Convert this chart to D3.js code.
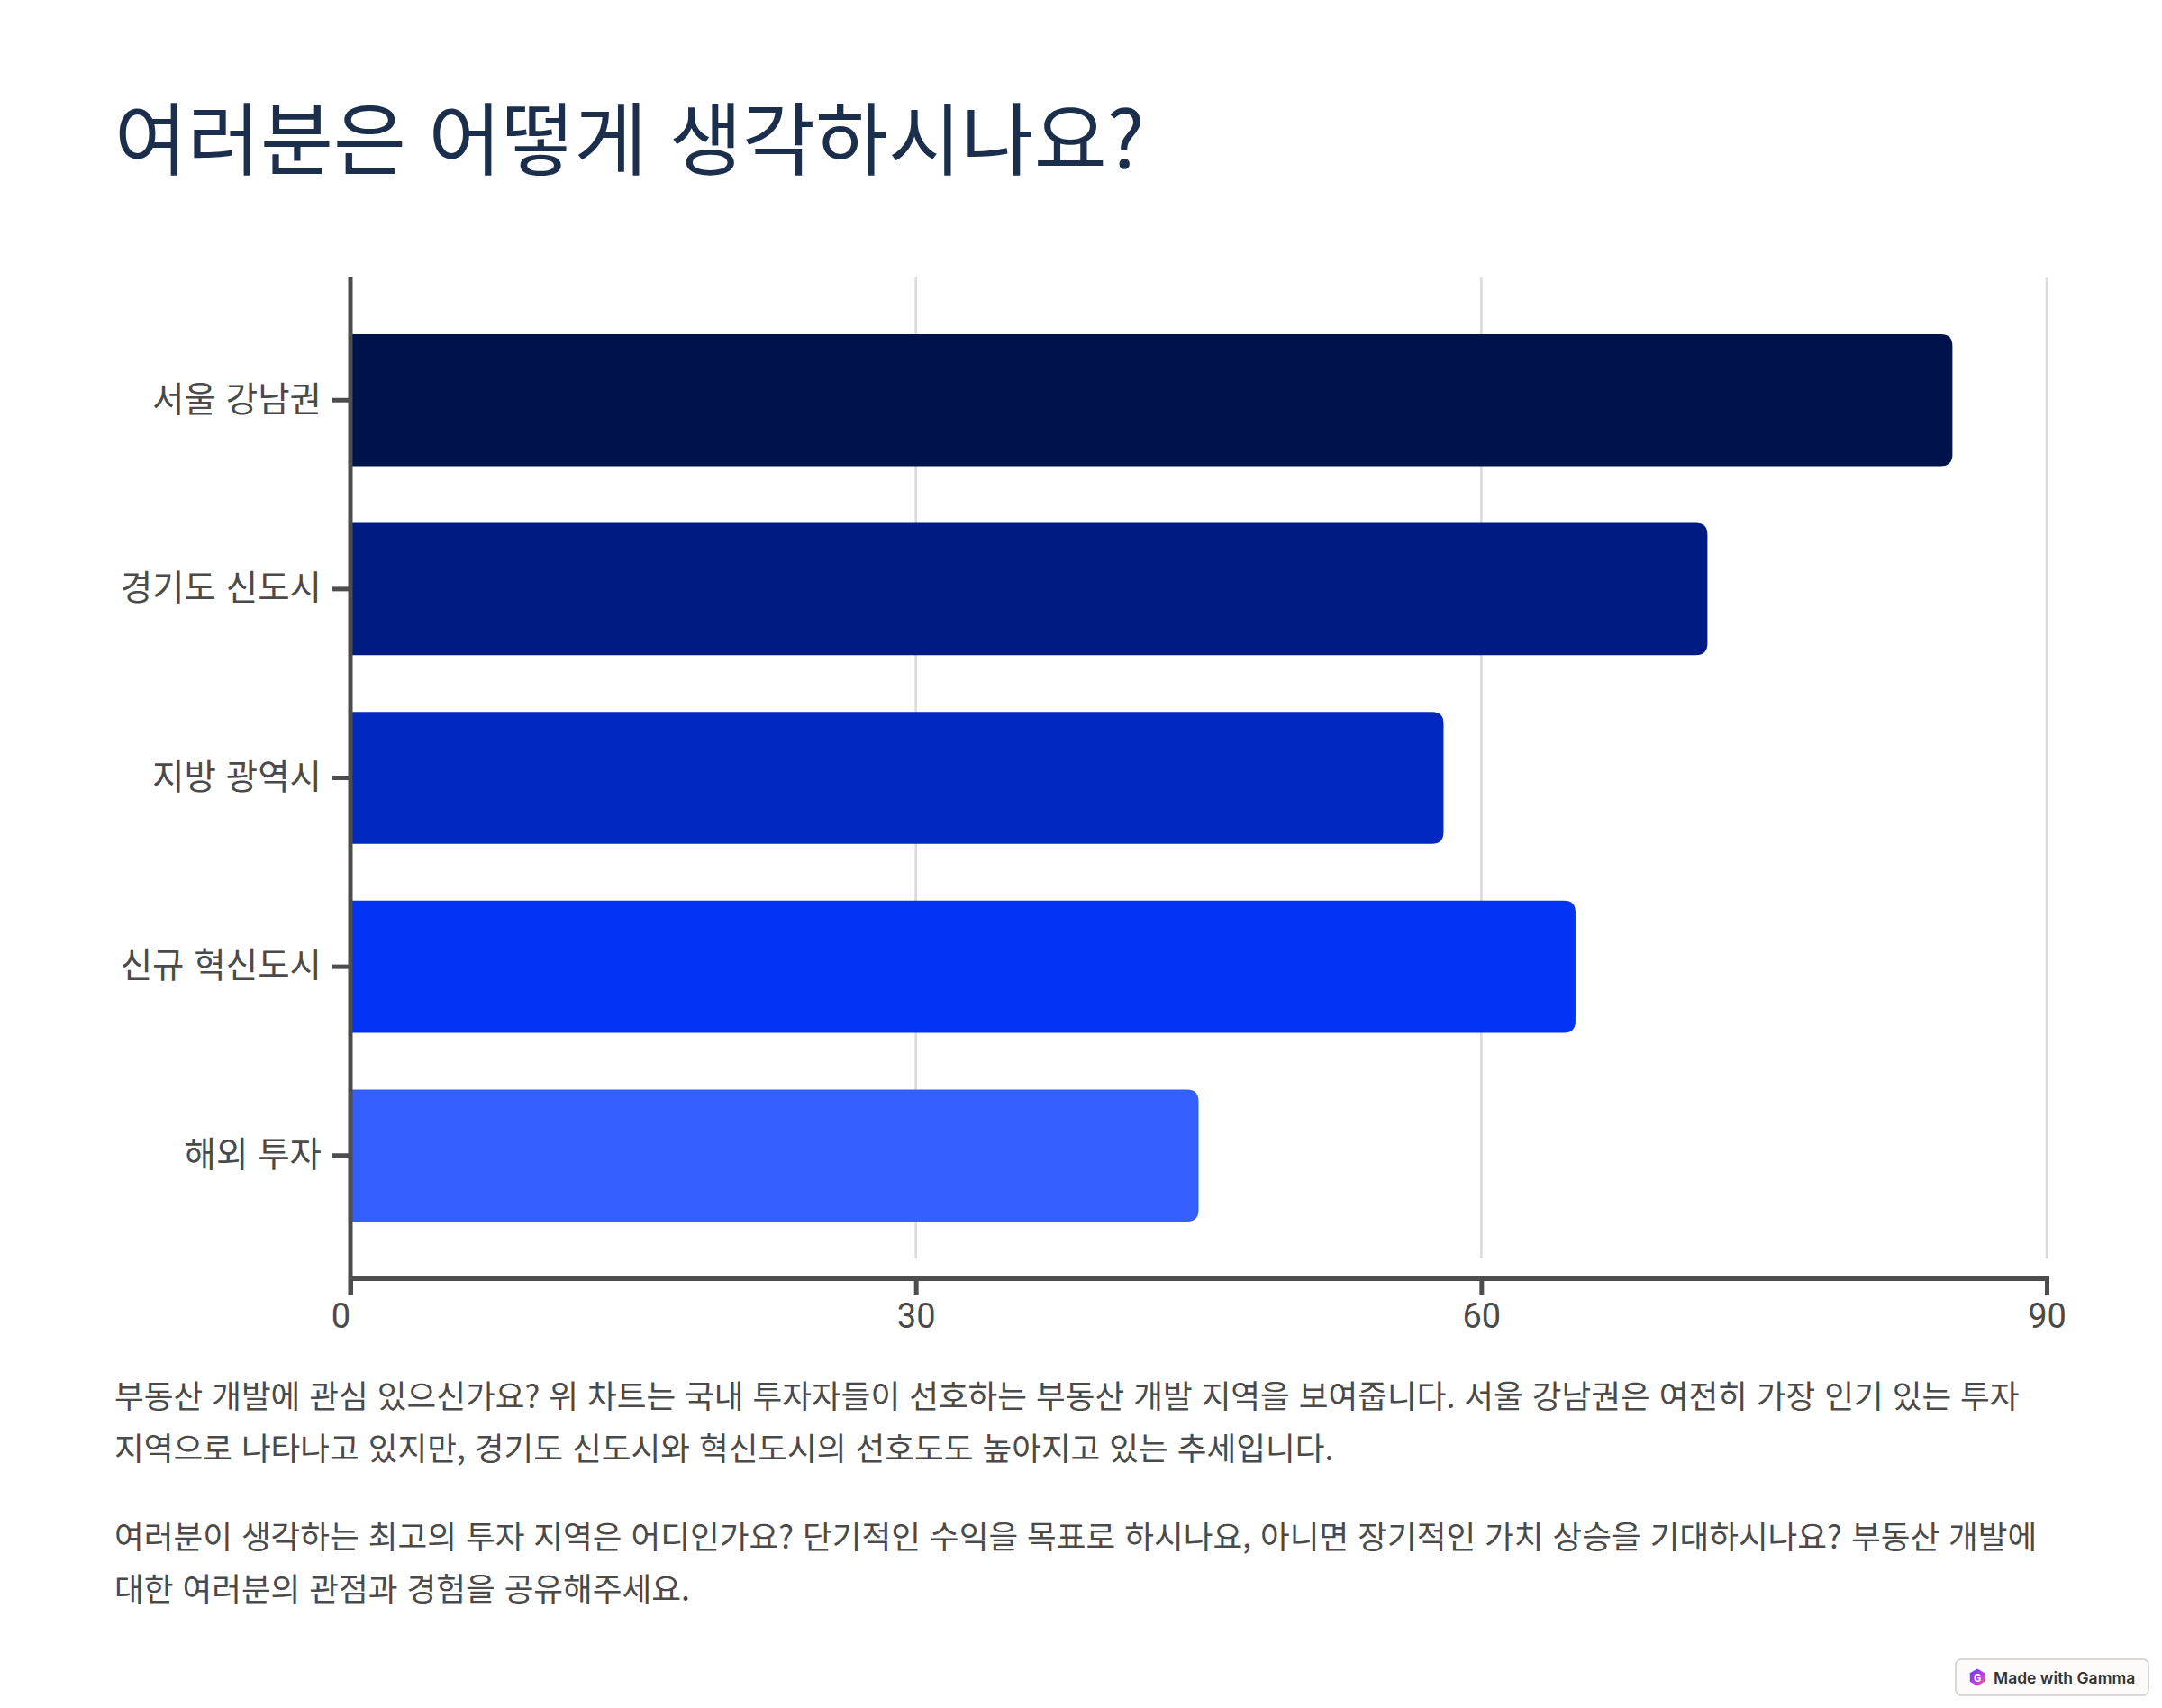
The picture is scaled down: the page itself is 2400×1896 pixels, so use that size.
<!DOCTYPE html>
<html lang="ko">
<head>
<meta charset="utf-8">
<script src="https://cdn.jsdelivr.net/npm/d3@7"></script>
<style>
  html, body { margin: 0; padding: 0; background: #ffffff; }
  svg { display: block; }
</style>
</head>
<body>
<svg id="chart" width="2400" height="1896"></svg>
<script>
// ---- data ----
const titleText = "여러분은 어떻게 생각하시나요?";
const categories = ["서울 강남권", "경기도 신도시", "지방 광역시", "신규 혁신도시", "해외 투자"];
const values = [85, 72, 58, 65, 45];
const xTicks = [0, 30, 60, 90];
const paragraph1 = [
  "부동산 개발에 관심 있으신가요? 위 차트는 국내 투자자들이 선호하는 부동산 개발 지역을 보여줍니다. 서울 강남권은 여전히 가장 인기 있는 투자",
  "지역으로 나타나고 있지만, 경기도 신도시와 혁신도시의 선호도도 높아지고 있는 추세입니다."
];
const paragraph2 = [
  "여러분이 생각하는 최고의 투자 지역은 어디인가요? 단기적인 수익을 목표로 하시나요, 아니면 장기적인 가치 상승을 기대하시나요? 부동산 개발에",
  "대한 여러분의 관점과 경험을 공유해주세요."
];
const badgeText = "Made with Gamma";

// ---- styles ----
const barColors = ["#00124a", "#001c82", "#0228c0", "#0334f5", "#335fff"];
const axisColor = "#4d4d4d";
const gridColor = "#dadada";
const textColor = "#4a4a4a";
const koFont = "'Noto Sans CJK KR', 'Noto Sans', sans-serif";

const svg = d3.select("#chart");

// title
svg.append("text")
  .attr("x", 127).attr("y", 187)
  .attr("font-family", koFont)
  .attr("font-size", 88)
  .attr("font-weight", 400)
  .attr("fill", "#1b2e4b")
  .text(titleText);

// scales
const plot = { left: 389, right: 2272, top: 308, bottom: 1419 };
const x = d3.scaleLinear().domain([0, 90]).range([plot.left, plot.right]);
const y = d3.scaleBand().domain(categories).range([plot.top, plot.bottom]).paddingInner(0.3).paddingOuter(0.3);

// gridlines
svg.append("g").selectAll("line")
  .data(xTicks.filter(d => d > 0))
  .join("line")
  .attr("x1", d => x(d)).attr("x2", d => x(d))
  .attr("y1", plot.top).attr("y2", plot.bottom - 22)
  .attr("stroke", gridColor).attr("stroke-width", 2.5);

// bars with right rounded corners
function rightRounded(x0, y0, w, h, r) {
  r = Math.min(r, w, h / 2);
  return `M${x0},${y0}H${x0 + w - r}Q${x0 + w},${y0} ${x0 + w},${y0 + r}V${y0 + h - r}Q${x0 + w},${y0 + h} ${x0 + w - r},${y0 + h}H${x0}Z`;
}
svg.append("g").selectAll("path")
  .data(categories)
  .join("path")
  .attr("d", (c, i) => rightRounded(x(0), y(c), x(values[i]) - x(0), y.bandwidth(), 13))
  .attr("fill", (c, i) => barColors[i]);

// x axis
const xAxis = d3.axisBottom(x).tickValues(xTicks).tickSizeInner(18).tickSizeOuter(18).tickPadding(10);
const gx = svg.append("g").attr("transform", `translate(0,${plot.bottom})`).call(xAxis);
gx.select(".domain").attr("stroke", axisColor).attr("stroke-width", 5);
gx.selectAll(".tick line").attr("stroke", axisColor).attr("stroke-width", 5);
gx.selectAll(".tick text")
  .attr("fill", textColor)
  .attr("font-family", "Roboto, sans-serif")
  .attr("font-size", 38)
  .attr("dy", "0.71em")
  .attr("dx", d => d === 0 ? -11 : 0);

// y axis
const yAxis = d3.axisLeft(y).tickSizeInner(20).tickSizeOuter(0).tickPadding(12);
const gy = svg.append("g").attr("transform", `translate(${plot.left},0)`).call(yAxis);
gy.select(".domain").attr("stroke", axisColor).attr("stroke-width", 5)
  .attr("d", `M0,${plot.top}V${plot.bottom + 18}`);
gy.selectAll(".tick line").attr("stroke", axisColor).attr("stroke-width", 5);
gy.selectAll(".tick text")
  .attr("fill", textColor)
  .attr("font-family", koFont)
  .attr("font-size", 38.5);

// paragraphs
const paraLines = [
  { text: paragraph1[0], y: 1563 },
  { text: paragraph1[1], y: 1621 },
  { text: paragraph2[0], y: 1719 },
  { text: paragraph2[1], y: 1777 }
];
svg.append("g").selectAll("text")
  .data(paraLines)
  .join("text")
  .attr("x", 127).attr("y", d => d.y)
  .attr("font-family", koFont)
  .attr("font-size", 35.6)
  .attr("fill", textColor)
  .text(d => d.text);

// badge
const badge = svg.append("g").attr("transform", "translate(2171,1842)");
badge.append("rect")
  .attr("width", 214).attr("height", 40).attr("rx", 6)
  .attr("fill", "#fcfbfa").attr("stroke", "#cfcccc").attr("stroke-width", 1.5);
const defs = svg.append("defs");
const grad = defs.append("linearGradient").attr("id", "gammaGrad").attr("x1", "0").attr("y1", "0").attr("x2", "1").attr("y2", "1");
grad.append("stop").attr("offset", "0").attr("stop-color", "#5b3df5");
grad.append("stop").attr("offset", "0.6").attr("stop-color", "#c03cf0");
grad.append("stop").attr("offset", "1").attr("stop-color", "#ff6a3d");
const hex = d3.range(6).map(k => {
  const a = Math.PI / 3 * k - Math.PI / 2;
  return [24 + 9.5 * Math.cos(a), 20 + 9.5 * Math.sin(a)];
});
badge.append("path").attr("d", "M" + hex.join("L") + "Z").attr("fill", "url(#gammaGrad)");
badge.append("text").attr("x", 24).attr("y", 24.5).attr("text-anchor", "middle")
  .attr("font-family", "Roboto, sans-serif").attr("font-size", 12).attr("font-weight", 700)
  .attr("fill", "#ffffff").text("G");
badge.append("text")
  .attr("x", 42).attr("y", 26.5)
  .attr("font-family", "Inter, Roboto, sans-serif")
  .attr("font-size", 17.5).attr("font-weight", 600)
  .attr("fill", "#333333")
  .text(badgeText);
</script>
</body>
</html>
